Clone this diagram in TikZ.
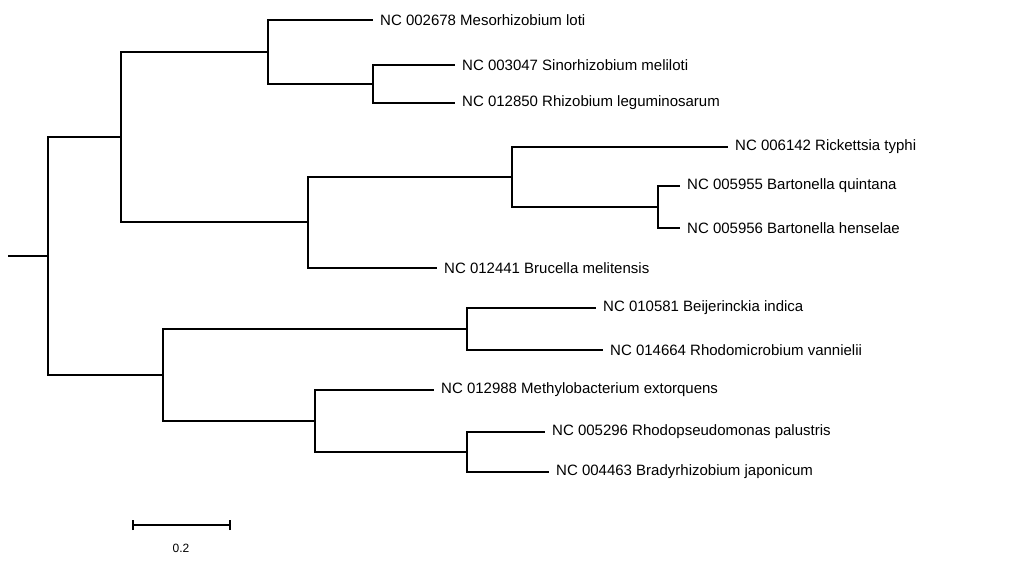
\documentclass[tikz,border=0pt]{standalone}
\usepackage{fontspec}
\setmainfont{Liberation Sans}
\begin{document}
\begin{tikzpicture}[x=1pt,y=-1pt,br/.style={line width=1.3pt},
lab/.style={anchor=west,inner sep=0pt,xshift=7pt,font=\fontsize{15}{17}\selectfont}]
\useasboundingbox (0,0) rectangle (1024,567);
% internal nodes
\coordinate (root) at (48,256);
\coordinate (r0) at (8,256);
\coordinate (T) at (121,137);
\coordinate (A) at (268,52);
\coordinate (S) at (373,84);
\coordinate (B) at (308,222);
\coordinate (R) at (512,177);
\coordinate (Bt) at (658,207);
\coordinate (Bo) at (163,375);
\coordinate (Be) at (467,329);
\coordinate (M) at (315,421);
\coordinate (Rh) at (467,452);
% leaves
\coordinate (l1) at (373,20);
\coordinate (l2) at (455,65);
\coordinate (l3) at (455,103);
\coordinate (l4) at (728,147);
\coordinate (l5) at (680,186);
\coordinate (l6) at (680,228);
\coordinate (l7) at (437,268);
\coordinate (l8) at (596,308);
\coordinate (l9) at (603,350);
\coordinate (l10) at (434,390);
\coordinate (l11) at (545,432);
\coordinate (l12) at (549,472);
\node[lab] (n1) at (l1) {NC 002678 Mesorhizobium loti};
\node[lab] (n2) at (l2) {NC 003047 Sinorhizobium meliloti};
\node[lab] (n3) at (l3) {NC 012850 Rhizobium leguminosarum};
\node[lab] (n4) at (l4) {NC 006142 Rickettsia typhi};
\node[lab] (n5) at (l5) {NC 005955 Bartonella quintana};
\node[lab] (n6) at (l6) {NC 005956 Bartonella henselae};
\node[lab] (n7) at (l7) {NC 012441 Brucella melitensis};
\node[lab] (n8) at (l8) {NC 010581 Beijerinckia indica};
\node[lab] (n9) at (l9) {NC 014664 Rhodomicrobium vannielii};
\node[lab] (n10) at (l10) {NC 012988 Methylobacterium extorquens};
\node[lab] (n11) at (l11) {NC 005296 Rhodopseudomonas palustris};
\node[lab] (n12) at (l12) {NC 004463 Bradyrhizobium japonicum};
\draw[br] (r0) -- (root);
\draw[br] (root) |- (T);
\draw[br] (root) |- (Bo);
\draw[br] (T) |- (A);
\draw[br] (T) |- (B);
\draw[br] (A) |- (l1);
\draw[br] (A) |- (S);
\draw[br] (S) |- (l2);
\draw[br] (S) |- (l3);
\draw[br] (B) |- (R);
\draw[br] (B) |- (l7);
\draw[br] (R) |- (l4);
\draw[br] (R) |- (Bt);
\draw[br] (Bt) |- (l5);
\draw[br] (Bt) |- (l6);
\draw[br] (Bo) |- (Be);
\draw[br] (Bo) |- (M);
\draw[br] (Be) |- (l8);
\draw[br] (Be) |- (l9);
\draw[br] (M) |- (l10);
\draw[br] (M) |- (Rh);
\draw[br] (Rh) |- (l11);
\draw[br] (Rh) |- (l12);
% scale bar
\coordinate (s1) at (133,525);
\coordinate (s2) at (230,525);
\draw[br] (s1) -- (s2);
\draw[br] ([yshift=-5pt]s1) -- ([yshift=5pt]s1);
\draw[br] ([yshift=-5pt]s2) -- ([yshift=5pt]s2);
\node[font=\fontsize{12}{14}\selectfont,inner sep=0pt] (sl) at (181,548) {0.2};
\end{tikzpicture}
\end{document}
